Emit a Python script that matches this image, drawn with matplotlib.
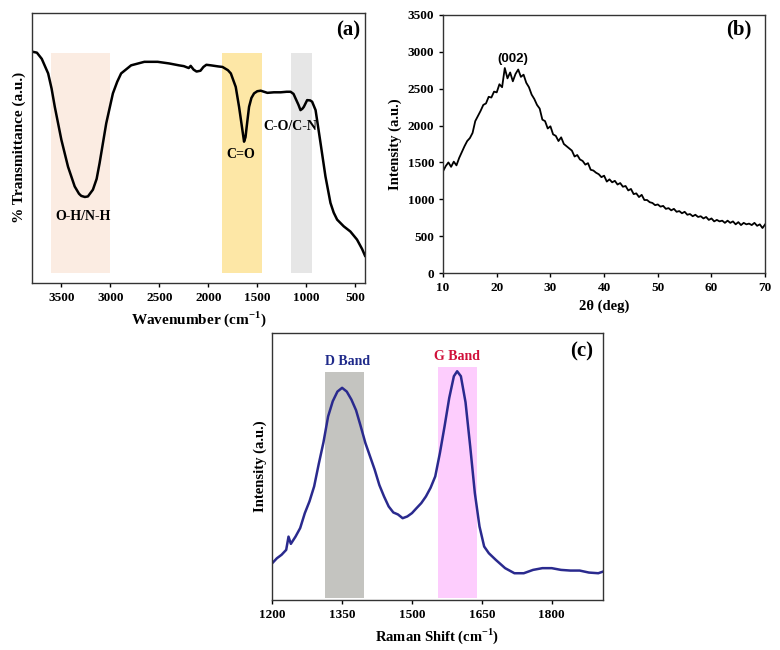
import numpy as np
import matplotlib
matplotlib.use('Agg')
import matplotlib.pyplot as plt

plt.rcParams['font.family'] = ['Liberation Serif', 'DejaVu Serif']
plt.rcParams['font.weight'] = 'bold'
plt.rcParams['mathtext.fontset'] = 'custom'
plt.rcParams['mathtext.rm'] = 'Liberation Serif:bold'
plt.rcParams['mathtext.bf'] = 'Liberation Serif:bold'

# (a) FTIR
ftir_wn = [3790, 3750, 3700, 3670, 3635, 3600, 3567, 3500, 3432, 3364, 3320, 3297,
           3260, 3229, 3178, 3140, 3110, 3042, 2974, 2930, 2890, 2788, 2653, 2517,
           2400, 2300, 2250, 2200, 2180, 2150, 2120, 2080, 2050, 2020, 1974, 1900,
           1855, 1800, 1770, 1720, 1686, 1652, 1635, 1620, 1608, 1584, 1560, 1533,
           1500, 1465, 1397, 1330, 1262, 1200, 1160, 1130, 1109, 1080, 1059, 1040,
           1025, 991, 960, 940, 905, 880, 854, 804, 753, 720, 685, 617, 550, 482,
           430, 400]
ftir_t = [85.6, 85.3, 83, 80.5, 77.6, 72, 65.2, 53, 43, 35.7, 33, 32.2,
          31.8, 32, 34.5, 38.5, 44.3, 59.1, 70.2, 74.5, 77.6, 80.6, 81.9, 81.9,
          81.3, 80.6, 80.3, 79.6, 80.4, 79, 78.3, 78.6, 80, 80.8, 80.6, 80.2,
          80, 78.8, 77.6, 72.6, 65.2, 56.6, 52.3, 54, 57.9, 65.2, 68.5, 70.2,
          71, 71.2, 70.4, 70.6, 70.6, 70.8, 70.8, 70, 68.3, 66, 64, 64.5,
          65.2, 67.7, 67.6, 67.1, 64, 58, 51.7, 39.4, 29.6, 26, 23.4, 20.9, 19, 16,
          12.5, 10]
ftir_bands = [(3608, 3008, '#fbece2'), (1856, 1456, '#fde7a6'), (1151, 941, '#e6e6e6')]

# (b) XRD
xrd_int = [1380, 1450, 1500, 1440, 1510, 1460, 1560, 1640, 1720, 1790,
           1830, 1900, 2060, 2130, 2200, 2280, 2300, 2390, 2380, 2460,
           2450, 2560, 2520, 2780, 2640, 2720, 2600, 2700, 2760, 2660,
           2690, 2580, 2520, 2420, 2360, 2280, 2230, 2080, 2060, 1960,
           1990, 1880, 1860, 1790, 1840, 1750, 1720, 1690, 1660, 1580,
           1600, 1540, 1520, 1470, 1490, 1400, 1390, 1360, 1340, 1300,
           1320, 1240, 1270, 1230, 1250, 1200, 1220, 1170, 1180, 1120,
           1140, 1070, 1080, 1030, 1060, 990, 990, 960, 950, 920,
           930, 900, 910, 870, 880, 850, 870, 830, 840, 810,
           830, 790, 800, 770, 790, 760, 770, 740, 760, 720,
           740, 700, 720, 700, 710, 680, 710, 680, 700, 660,
           690, 650, 680, 660, 670, 650, 680, 640, 660, 610, 660]
xrd_2theta = np.linspace(10, 70, len(xrd_int))

# (c) Raman
raman_shift = [1200, 1210, 1220, 1230, 1235, 1240, 1250, 1260, 1270, 1280, 1290, 1300,
               1310, 1320, 1330, 1340, 1350, 1360, 1370, 1380, 1390, 1400, 1410, 1420,
               1430, 1440, 1450, 1460, 1470, 1480, 1490, 1500, 1510, 1520, 1530, 1540,
               1550, 1560, 1570, 1580, 1590, 1597, 1605, 1615, 1625, 1635, 1645, 1655,
               1665, 1680, 1700, 1720, 1740, 1760, 1780, 1800, 1820, 1840, 1860, 1880,
               1900, 1910]
raman_int = [13.75, 15.6, 16.9, 18.75, 23.7, 21, 23.7, 26.9, 32.5, 36.9, 42.5, 51,
             59, 68.7, 74.4, 78, 79.4, 78, 75, 71, 65, 58.75, 53.75, 48.75,
             43, 38.75, 35, 32.75, 32, 30.6, 31.25, 32.5, 34.4, 36.25, 38.75, 42,
             46.25, 55, 65, 75.6, 83.75, 85.6, 83.75, 74, 57.5, 40, 27.5, 20,
             17.5, 15, 11.9, 10, 10, 11.25, 11.9, 11.9, 11.25, 11, 11, 10.25,
             10, 10.6]

fig = plt.figure(figsize=(7.8, 6.5), dpi=100)

# ---- (a)
ax1 = fig.add_axes([0.041, 0.565, 0.427, 0.415])
for x0, x1, c in ftir_bands:
    ax1.fill_between([x1, x0], 3.7, 85, color=c, lw=0)
ax1.plot(ftir_wn, ftir_t, color='black', lw=1.8)
ax1.set_xlim(3800, 400)
ax1.set_ylim(0, 100)
ax1.set_xticks([3500, 3000, 2500, 2000, 1500, 1000, 500])
ax1.set_yticks([])
ax1.set_xlabel('Wavenumber (cm$^{\\mathbf{-1}}$)', fontsize=11, fontweight='bold')
ax1.set_ylabel('% Transmittance (a.u.)', fontsize=11, fontweight='bold')
ax1.text(3280, 24.6, 'O-H/N-H', ha='center', va='center', fontsize=10, fontweight='bold')
ax1.text(1670, 47.4, 'C=O', ha='center', va='center', fontsize=10, fontweight='bold')
ax1.text(1160, 58, 'C-O/C-N', ha='center', va='center', fontsize=10, fontweight='bold')
ax1.text(0.95, 0.935, '(a)', transform=ax1.transAxes, ha='center', va='center',
         fontsize=15, fontweight='bold')

# ---- (b)
ax2 = fig.add_axes([0.568, 0.58, 0.413, 0.397])
ax2.plot(xrd_2theta, xrd_int, color='black', lw=1.3)
ax2.set_xlim(10, 70)
ax2.set_ylim(0, 3500)
ax2.set_xticks(range(10, 71, 10))
ax2.set_yticks(range(0, 3501, 500))
ax2.set_xlabel('2θ (deg)', fontsize=10.5, fontweight='bold')
ax2.set_ylabel('Intensity (a.u.)', fontsize=10.5, fontweight='bold')
ax2.text(23.06, 2900, '(002)', ha='center', va='center', fontsize=9.5,
         fontweight='bold', family=['Liberation Sans', 'DejaVu Sans'])
ax2.text(0.917, 0.945, '(b)', transform=ax2.transAxes, ha='center', va='center',
         fontsize=15, fontweight='bold')

# ---- (c)
ax3 = fig.add_axes([0.349, 0.077, 0.424, 0.411])
ax3.fill_between([1313, 1396], 0.6, 85.4, color='#c4c4c0', lw=0)
ax3.fill_between([1556, 1639], 0.6, 87.25, color='#fdcdfd', lw=0)
ax3.plot(raman_shift, raman_int, color='#2a2a8e', lw=1.8)
ax3.set_xlim(1200, 1910)
ax3.set_ylim(0, 100)
ax3.set_xticks([1200, 1350, 1500, 1650, 1800])
ax3.set_yticks([])
ax3.set_xlabel('Raman Shift (cm$^{\\mathbf{-1}}$)', fontsize=10.5, fontweight='bold')
ax3.set_ylabel('Intensity (a.u.)', fontsize=10.5, fontweight='bold')
ax3.text(1361, 89.4, 'D Band', ha='center', va='center', fontsize=10,
         fontweight='bold', color='#1f2a8a')
ax3.text(1596, 91.3, 'G Band', ha='center', va='center', fontsize=10,
         fontweight='bold', color='#d0103a')
ax3.text(0.935, 0.93, '(c)', transform=ax3.transAxes, ha='center', va='center',
         fontsize=15, fontweight='bold')

for ax in (ax1, ax2, ax3):
    ax.tick_params(direction='out', length=3, width=1, labelsize=9.5)
    for lab in ax.get_xticklabels() + ax.get_yticklabels():
        lab.set_fontweight('bold')
    for s in ax.spines.values():
        s.set_linewidth(1.0)
        s.set_color('#333333')

fig.savefig('out.png', dpi=100)
